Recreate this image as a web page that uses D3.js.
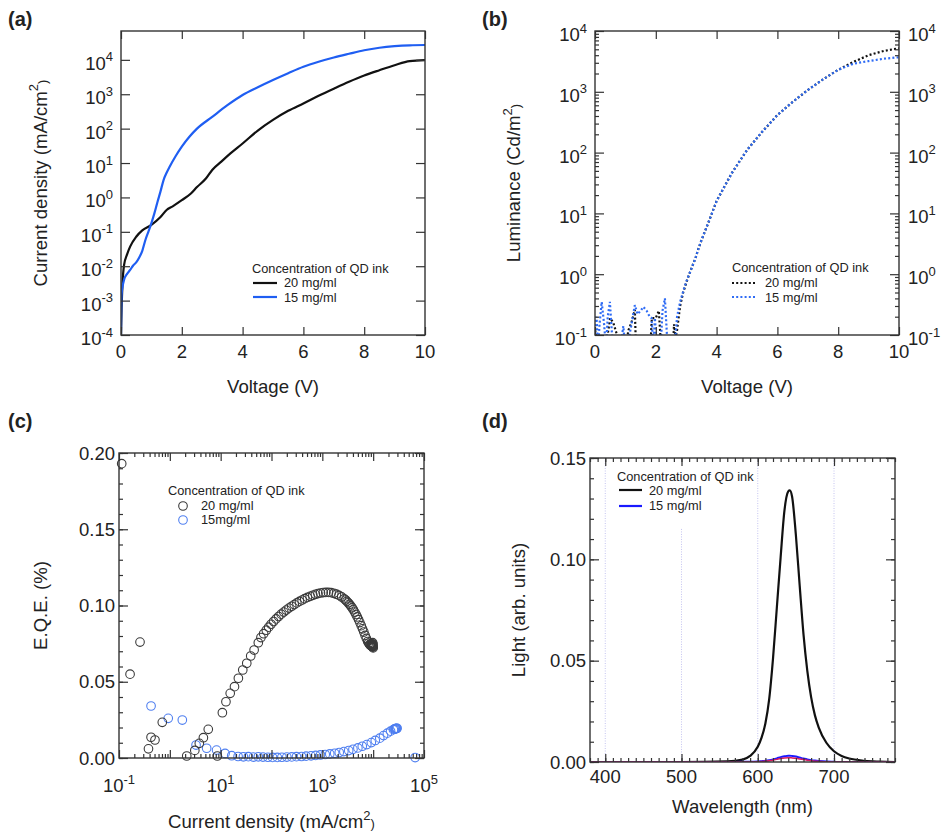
<!DOCTYPE html>
<meta charset="utf-8">
<style>
body { margin: 0; background: #fff; }
svg { font-family: Arial, "Liberation Sans", Helvetica, sans-serif; }
.axis path { display: none; }
.axis line { stroke: #333; stroke-width: 1.2; }
</style>
<body>
<script src="https://cdn.jsdelivr.net/npm/d3@7"></script>
<script>

// (a) current density vs voltage
var voltA20 = [0,0.02,0.05,0.1,0.2,0.3,0.5,0.7,1.0,1.3,1.5,1.7,2.0,2.3,2.5,2.8,3.0,3.3,3.6,4.0,4.5,5.0,5.5,6.0,6.5,7.0,7.5,8.0,8.5,9.0,9.5,10];
var curA20 = [1e-4,6e-4,3.2e-3,1.07e-2,0.022,0.037,0.072,0.11,0.16,0.27,0.43,0.55,0.83,1.3,2.0,3.6,6.3,11,19,37,88,180,330,540,900,1450,2300,3500,5000,7000,9200,9800];
var voltA15 = [0,0.02,0.05,0.1,0.2,0.3,0.4,0.5,0.6,0.7,0.8,0.9,1.0,1.1,1.2,1.3,1.4,1.5,1.6,1.8,2.0,2.25,2.5,3.0,3.5,4.0,4.5,5.0,5.5,6.0,6.5,7.0,7.5,8.0,8.5,9.0,9.5,10];
var curA15 = [1e-4,1.5e-3,2.5e-3,4e-3,6e-3,7.8e-3,0.0105,0.013,0.018,0.028,0.057,0.1,0.18,0.35,0.74,1.5,3.2,5.2,7.8,16,30,58,100,220,480,950,1600,2600,4100,6300,8800,11700,15000,19000,22500,25000,26500,27000];

// (b) luminance vs voltage
var voltB20 = [0,0.1,0.2,0.3,0.4,0.5,0.6,0.7,0.8,0.9,1.0,1.1,1.2,1.31,1.36,1.8,1.87,2.0,2.1,2.2,2.55,2.6,2.65,2.7,2.8,2.9,3.0,3.1,3.2,3.3,3.4,3.5,3.75,4.0,4.5,5.0,5.5,6.0,6.5,7.0,7.5,8.0,8.5,9.0,9.5,10];
var lumB20 = [0.12,0.07,0.1,0.06,0.09,0.19,0.16,0.11,0.07,0.09,0.06,0.12,0.16,0.26,0.04,0.04,0.19,0.19,0.25,0.04,0.04,0.15,0.09,0.12,0.3,0.5,0.72,1.0,1.35,1.8,2.6,3.6,7.5,16,46,110,220,415,680,1070,1600,2300,3100,4000,4700,5200];
var voltB15 = [0,0.05,0.1,0.15,0.22,0.3,0.36,0.42,0.49,0.55,0.6,0.7,0.8,0.87,0.93,1.0,1.1,1.2,1.31,1.4,1.5,1.59,1.7,1.8,1.86,1.92,1.97,2.05,2.15,2.22,2.3,2.4,2.6,2.65,2.7,2.8,2.9,3.0,3.1,3.2,3.3,3.4,3.5,3.75,4.0,4.5,5.0,5.5,6.0,6.5,7.0,7.5,8.0,8.5,9.0,9.5,10];
var lumB15 = [0.12,0.2,0.06,0.15,0.35,0.15,0.06,0.2,0.35,0.12,0.05,0.05,0.05,0.08,0.14,0.06,0.08,0.15,0.31,0.22,0.25,0.29,0.25,0.2,0.19,0.06,0.19,0.05,0.05,0.25,0.4,0.05,0.05,0.1,0.2,0.35,0.52,0.75,1.0,1.35,1.8,2.6,3.6,7.5,16,46,110,220,415,680,1070,1600,2300,2900,3200,3500,3700];

// (c) EQE vs current density
var curC20 = [0.113,0.165,0.259,0.38,0.427,0.51,0.71,2.15,3.1,3.8,4.57,5.7,8.6,10.8,12.7,15.4,18.7,22.3,27.2,32.6,39,45.5,55,62,70,79,88,98,110,123,138,155,174,195,220,250,280,315,355,400,450,510,575,650,730,820,920,1040,1170,1320,1490,1680,1890,2130,2400,2700,2870,3040,3230,3420,3630,3850,4080,4330,4600,4870,5170,5480,5820,6170,6550,6940,7350,7800,8150,8500,8750,9000,9150,9300,9400,9500,9600,9700,9750,9800,9850,9900,9950,10000];
var eqeC20 = [0.193,0.055,0.076,0.006,0.0136,0.0118,0.0234,0.0013,0.005,0.0096,0.0133,0.0188,0.0013,0.0297,0.0369,0.0424,0.0468,0.0523,0.0577,0.0621,0.0669,0.0708,0.0756,0.079,0.0815,0.0838,0.0858,0.0877,0.0895,0.0912,0.0928,0.0943,0.0957,0.097,0.0983,0.0995,0.1006,0.1017,0.1027,0.1036,0.1045,0.1053,0.106,0.1067,0.1073,0.1078,0.1082,0.1085,0.1086,0.1086,0.1084,0.108,0.1074,0.1066,0.1056,0.1043,0.1036,0.1027,0.1018,0.1008,0.0997,0.0985,0.0972,0.0957,0.0941,0.0925,0.0907,0.0888,0.0868,0.0847,0.0826,0.0804,0.0784,0.0764,0.0754,0.0745,0.0741,0.0738,0.0748,0.0735,0.0752,0.0733,0.0744,0.0731,0.0756,0.073,0.0738,0.0727,0.0746,0.0722];
var curC15 = [0.427,0.93,1.76,3.28,5.3,8.3,12.2,16.5,22,28,35,44,55,68,85,105,130,160,200,250,310,390,480,600,740,920,1140,1400,1750,2150,2650,3300,4000,5000,6100,7500,9200,11000,13500,16000,19000,22000,25000,26000,27000,27500,28000,28500,29000,29500,67000];
var eqeC15 = [0.0341,0.026,0.0249,0.0085,0.0064,0.0052,0.003,0.0015,0.001,0.0008,0.0009,0.0006,0.0008,0.0006,0.0005,0.0004,0.0004,0.0005,0.0006,0.0007,0.0009,0.001,0.0012,0.0014,0.0017,0.002,0.0023,0.0027,0.0031,0.0036,0.0042,0.0049,0.0057,0.0066,0.0077,0.0088,0.0101,0.0115,0.013,0.0147,0.0163,0.0176,0.0186,0.0189,0.0191,0.0192,0.0193,0.0193,0.0194,0.0195,0.0003];

// (d) EL spectra
var wave = [380,500,560,580,590,600,605,610,615,620,625,630,635,640,642,645,650,655,660,665,670,675,680,690,700,710,720,740,760,780];
var lightD20 = [0,0,0.0003,0.0012,0.003,0.0075,0.012,0.019,0.031,0.051,0.076,0.101,0.124,0.1335,0.134,0.131,0.112,0.087,0.063,0.045,0.032,0.023,0.017,0.0095,0.0053,0.003,0.0017,0.0006,0.0002,0];
var lightD15 = [0,0,0,0.0001,0.0001,0.0002,0.0004,0.0006,0.0009,0.0013,0.0018,0.0024,0.0028,0.0031,0.0031,0.003,0.0027,0.0022,0.0017,0.0013,0.0009,0.0007,0.0005,0.0002,0.0001,0,0,0,0,0];
var lightDred = [0,0,0,0,0,0.0001,0.0002,0.0004,0.0006,0.0009,0.0013,0.0017,0.002,0.0021,0.0021,0.002,0.0018,0.0015,0.0012,0.0009,0.0006,0.0004,0.0003,0.0001,0,0,0,0,0,0];
var gridWave = [400,500,600,700];
var gridTop = [0.15,0.115,0.15,0.15];

var legendTitle = "Concentration of QD ink";

var svg = d3.select("body").append("svg").attr("width", 941).attr("height", 835);

function panel(left, top, w, h, id) {
  var g = svg.append("g").attr("transform", "translate(" + left + "," + top + ")");
  g.append("clipPath").attr("id", id).append("rect").attr("width", w).attr("height", h);
  return g;
}

function ticks(g, scale, side, vals, size, w, h) {
  var ax = side == "bottom" ? d3.axisBottom(scale) : side == "top" ? d3.axisTop(scale)
         : side == "left" ? d3.axisLeft(scale) : d3.axisRight(scale);
  var t = side == "bottom" ? "translate(0," + h + ")" : side == "right" ? "translate(" + w + ",0)" : "translate(0,0)";
  g.append("g").attr("class", "axis").attr("transform", t)
    .call(ax.tickValues(vals).tickSize(-size).tickFormat(function() { return ""; }));
}

function frame(g, w, h) {
  g.append("rect").attr("width", w).attr("height", h)
    .attr("fill", "none").attr("stroke", "#333").attr("stroke-width", 1.4);
}

function pow10(g, x, y, e, anchor) {
  var t = g.append("text").attr("x", x).attr("y", y).attr("text-anchor", anchor)
    .attr("font-size", 18.5).attr("fill", "#222");
  t.append("tspan").text("10");
  t.append("tspan").attr("dy", -8.5).attr("font-size", 13).text(e);
}

function plain(g, x, y, s, anchor) {
  g.append("text").attr("x", x).attr("y", y).attr("text-anchor", anchor)
    .attr("font-size", 18.5).attr("fill", "#222").text(s);
}

function xTitle(g, x, y, parts) {
  var t = g.append("text").attr("x", x).attr("y", y).attr("text-anchor", "middle")
    .attr("font-size", 18.6).attr("fill", "#222");
  parts.forEach(function(p) {
    var s = t.append("tspan").text(p[0]);
    if (p[1]) s.attr("dy", p[1]).attr("font-size", 13);
  });
}

function yTitle(g, x, y, parts) {
  var t = g.append("text").attr("transform", "translate(" + x + "," + y + ") rotate(-90)")
    .attr("text-anchor", "middle").attr("font-size", 18.6).attr("fill", "#222");
  parts.forEach(function(p) {
    var s = t.append("tspan").text(p[0]);
    if (p[1]) s.attr("dy", p[1]).attr("font-size", 13);
  });
}

function tag(x, y, s) {
  svg.append("text").attr("x", x).attr("y", y).attr("font-size", 20)
    .attr("font-weight", "bold").attr("fill", "#222").text(s);
}

function legendText(g, x, y, s) {
  g.append("text").attr("x", x).attr("y", y).attr("font-size", 12.8).attr("fill", "#222").text(s);
}

var decades = d3.range(-4, 5).map(function(e) { return Math.pow(10, e); });

// ---------- (a) ----------
var wA = 304, hA = 304;
var gA = panel(121, 31, wA, hA, "clipA");
var xA = d3.scaleLinear().domain([0, 10]).range([0, wA]);
var yA = d3.scaleLog().domain([1e-4, 69000]).range([hA, 0]);
var lineA = d3.line().x(function(d) { return xA(d[0]); }).y(function(d) { return yA(d[1]); }).curve(d3.curveMonotoneX);

gA.append("path").datum(d3.zip(voltA20, curA20)).attr("d", lineA).attr("clip-path", "url(#clipA)")
  .attr("fill", "none").attr("stroke", "#111").attr("stroke-width", 2.2);
gA.append("path").datum(d3.zip(voltA15, curA15)).attr("d", lineA).attr("clip-path", "url(#clipA)")
  .attr("fill", "none").attr("stroke", "#1f5ef2").attr("stroke-width", 2.2);

var xTickA = [0, 2, 4, 6, 8, 10];
ticks(gA, xA, "bottom", xTickA, 8, wA, hA);
ticks(gA, xA, "top", xTickA, 8, wA, hA);
ticks(gA, yA, "left", decades, 9, wA, hA);
ticks(gA, yA, "right", decades, 9, wA, hA);
frame(gA, wA, hA);
xTickA.forEach(function(v) { plain(gA, xA(v), hA + 23, v, "middle"); });
d3.range(-4, 5).forEach(function(e) { pow10(gA, -8, yA(Math.pow(10, e)) + 10, e, "end"); });
xTitle(gA, wA / 2, 362, [["Voltage (V)"]]);
yTitle(gA, -74.5, hA / 2, [["Current density (mA/cm"], ["2", -8.5], [")", 8.5]]);

legendText(gA, 131, 242, legendTitle);
gA.append("line").attr("x1", 132).attr("x2", 156).attr("y1", 252).attr("y2", 252).attr("stroke", "#111").attr("stroke-width", 2.2);
gA.append("line").attr("x1", 132).attr("x2", 156).attr("y1", 266).attr("y2", 266).attr("stroke", "#1f5ef2").attr("stroke-width", 2.2);
legendText(gA, 163, 256, "20 mg/ml");
legendText(gA, 163, 270.5, "15 mg/ml");
tag(8, 26, "(a)");

// ---------- (b) ----------
var wB = 304, hB = 304;
var gB = panel(595, 31, wB, hB, "clipB");
var xB = d3.scaleLinear().domain([0, 10]).range([0, wB]);
var yB = d3.scaleLog().domain([0.1, 1e4]).range([hB, 0]);
var lineB = d3.line().x(function(d) { return xB(d[0]); }).y(function(d) { return yB(d[1]); });

gB.append("path").datum(d3.zip(voltB20, lumB20)).attr("d", lineB).attr("clip-path", "url(#clipB)")
  .attr("fill", "none").attr("stroke", "#111").attr("stroke-width", 2.2).attr("stroke-dasharray", "2,2.2");
gB.append("path").datum(d3.zip(voltB15, lumB15)).attr("d", lineB).attr("clip-path", "url(#clipB)")
  .attr("fill", "none").attr("stroke", "#2f6cf5").attr("stroke-width", 2.2).attr("stroke-dasharray", "2,2.2");

var decB = d3.range(-1, 5).map(function(e) { return Math.pow(10, e); });
var minorB = [];
d3.range(-1, 4).forEach(function(e) {
  d3.range(2, 10).forEach(function(m) { minorB.push(m * Math.pow(10, e)); });
});
ticks(gB, xB, "bottom", xTickA, 8, wB, hB);
ticks(gB, xB, "top", xTickA, 8, wB, hB);
ticks(gB, yB, "left", decB, 9, wB, hB);
ticks(gB, yB, "right", decB, 9, wB, hB);
ticks(gB, yB, "left", minorB, 4, wB, hB);
ticks(gB, yB, "right", minorB, 4, wB, hB);
frame(gB, wB, hB);
xTickA.forEach(function(v) { plain(gB, xB(v), hB + 23, v, "middle"); });
d3.range(-1, 5).forEach(function(e) {
  pow10(gB, -8, yB(Math.pow(10, e)) + 10, e, "end");
  pow10(gB, wB + 9, yB(Math.pow(10, e)) + 10, e, "start");
});
xTitle(gB, wB / 2, 362, [["Voltage (V)"]]);
yTitle(gB, -75, hB / 2, [["Luminance (Cd/m"], ["2", -8.5], [")", 8.5]]);

legendText(gB, 137, 241, legendTitle);
gB.append("line").attr("x1", 137).attr("x2", 162).attr("y1", 252).attr("y2", 252).attr("stroke", "#111").attr("stroke-width", 2.2).attr("stroke-dasharray", "2,2.2");
gB.append("line").attr("x1", 137).attr("x2", 162).attr("y1", 266).attr("y2", 266).attr("stroke", "#2f6cf5").attr("stroke-width", 2.2).attr("stroke-dasharray", "2,2.2");
legendText(gB, 170, 256, "20 mg/ml");
legendText(gB, 170, 270.5, "15 mg/ml");
tag(482, 26, "(b)");

// ---------- (c) ----------
var wC = 305, hC = 305;
var gC = panel(119, 453, wC, hC, "clipC");
var xC = d3.scaleLog().domain([0.1, 1e5]).range([0, wC]);
var yC = d3.scaleLinear().domain([0, 0.2]).range([hC, 0]);

gC.append("g").selectAll("circle").data(d3.zip(curC15, eqeC15)).join("circle")
  .attr("cx", function(d) { return xC(d[0]); }).attr("cy", function(d) { return yC(d[1]); })
  .attr("r", 4.3).attr("fill", "none").attr("stroke", "#4f7ff0").attr("stroke-width", 1.1);
gC.append("g").selectAll("circle").data(d3.zip(curC20, eqeC20)).join("circle")
  .attr("cx", function(d) { return xC(d[0]); }).attr("cy", function(d) { return yC(d[1]); })
  .attr("r", 4.3).attr("fill", "none").attr("stroke", "#3a3a3a").attr("stroke-width", 1.1);

var decC = d3.range(-1, 6).map(function(e) { return Math.pow(10, e); });
var minorC = [];
d3.range(-1, 5).forEach(function(e) {
  d3.range(2, 10).forEach(function(m) { minorC.push(m * Math.pow(10, e)); });
});
var yMajC = [0, 0.05, 0.1, 0.15, 0.2];
var yMinC = d3.range(0, 21).map(function(i) { return i / 100; });
ticks(gC, xC, "bottom", decC, 8, wC, hC);
ticks(gC, xC, "top", decC, 8, wC, hC);
ticks(gC, xC, "bottom", minorC, 4, wC, hC);
ticks(gC, xC, "top", minorC, 4, wC, hC);
ticks(gC, yC, "left", yMajC, 9, wC, hC);
ticks(gC, yC, "right", yMajC, 9, wC, hC);
ticks(gC, yC, "left", yMinC, 4, wC, hC);
ticks(gC, yC, "right", yMinC, 4, wC, hC);
frame(gC, wC, hC);
[-1, 1, 3, 5].forEach(function(e) { pow10(gC, xC(Math.pow(10, e)), hC + 34, e, "middle"); });
yMajC.forEach(function(v) { plain(gC, -4, yC(v) + 6.5, v.toFixed(2), "end"); });
xTitle(gC, wC / 2, 375, [["Current density (mA/cm"], ["2", -8.5], [")", 8.5]]);
yTitle(gC, -72.5, hC / 2, [["E.Q.E. (%)"]]);

legendText(gC, 49, 42, legendTitle);
gC.append("circle").attr("cx", 64).attr("cy", 53).attr("r", 4.3).attr("fill", "none").attr("stroke", "#3a3a3a").attr("stroke-width", 1.1);
gC.append("circle").attr("cx", 64).attr("cy", 67).attr("r", 4.3).attr("fill", "none").attr("stroke", "#4f7ff0").attr("stroke-width", 1.1);
legendText(gC, 82, 57, "20 mg/ml");
legendText(gC, 82, 71, "15mg/ml");
tag(8, 428, "(c)");

// ---------- (d) ----------
var wD = 305, hD = 304;
var gD = panel(590, 458, wD, hD, "clipD");
var xD = d3.scaleLinear().domain([380, 780]).range([0, wD]);
var yD = d3.scaleLinear().domain([0, 0.15]).range([hD, 0]);
var lineD = d3.line().x(function(d) { return xD(d[0]); }).y(function(d) { return yD(d[1]); }).curve(d3.curveMonotoneX);

gD.append("g").selectAll("line").data(d3.zip(gridWave, gridTop)).join("line")
  .attr("x1", function(d) { return xD(d[0]); }).attr("x2", function(d) { return xD(d[0]); })
  .attr("y1", function(d) { return yD(d[1]); }).attr("y2", hD)
  .attr("stroke", "#c4c4f0").attr("stroke-width", 1).attr("stroke-dasharray", "1,1.5");

gD.append("path").datum(d3.zip(wave, lightD20)).attr("d", lineD).attr("clip-path", "url(#clipD)")
  .attr("fill", "none").attr("stroke", "#111").attr("stroke-width", 2.2);
gD.append("path").datum(d3.zip(wave, lightD15)).attr("d", lineD).attr("clip-path", "url(#clipD)")
  .attr("fill", "none").attr("stroke", "#1a1aff").attr("stroke-width", 2);
gD.append("path").datum(d3.zip(wave, lightDred)).attr("d", lineD).attr("clip-path", "url(#clipD)")
  .attr("fill", "none").attr("stroke", "#d81b60").attr("stroke-width", 1.5);

var xMajD = [400, 500, 600, 700];
var xMinD = d3.range(380, 790, 10);
ticks(gD, xD, "bottom", xMajD, 8, wD, hD);
ticks(gD, xD, "top", xMajD, 8, wD, hD);
ticks(gD, xD, "bottom", xMinD, 4, wD, hD);
ticks(gD, xD, "top", xMinD, 4, wD, hD);
var yMajD = [0, 0.05, 0.1, 0.15];
var yMinD = d3.range(0, 16).map(function(i) { return i / 100; });
ticks(gD, yD, "left", yMajD, 9, wD, hD);
ticks(gD, yD, "right", yMajD, 9, wD, hD);
ticks(gD, yD, "left", yMinD, 4, wD, hD);
ticks(gD, yD, "right", yMinD, 4, wD, hD);
frame(gD, wD, hD);
xMajD.forEach(function(v) { plain(gD, xD(v), hD + 21, v, "middle"); });
yMajD.forEach(function(v) { plain(gD, -4, yD(v) + 6.5, v.toFixed(2), "end"); });
xTitle(gD, wD / 2, 355, [["Wavelength (nm)"]]);
yTitle(gD, -65, hD / 2, [["Light (arb. units)"]]);

legendText(gD, 27, 23, legendTitle);
gD.append("line").attr("x1", 29).attr("x2", 52).attr("y1", 32).attr("y2", 32).attr("stroke", "#111").attr("stroke-width", 2.2);
gD.append("line").attr("x1", 29).attr("x2", 52).attr("y1", 48).attr("y2", 48).attr("stroke", "#1a1aff").attr("stroke-width", 2.2);
legendText(gD, 59, 36.5, "20 mg/ml");
legendText(gD, 59, 52, "15 mg/ml");
tag(482, 428, "(d)");

</script>
